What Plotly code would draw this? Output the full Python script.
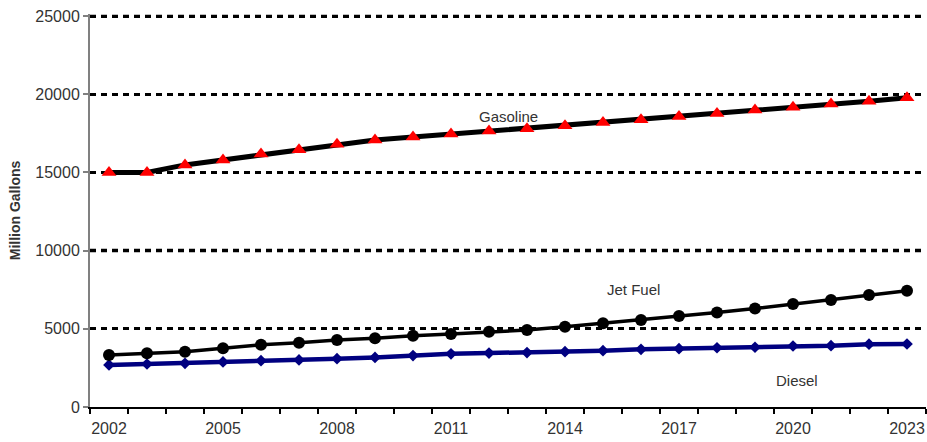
import plotly.graph_objects as go

# Annual fuel consumption projections, million gallons
years = list(range(2002, 2024))
gasoline = [15000, 15000, 15480, 15800, 16180, 16450, 16800, 17070, 17260, 17450,
            17650, 17800, 17990, 18200, 18370, 18580, 18770, 18990, 19160, 19370,
            19550, 19780]
jet_fuel = [3320, 3430, 3540, 3750, 3980, 4110, 4280, 4390, 4560, 4670,
            4810, 4920, 5130, 5350, 5560, 5820, 6050, 6300, 6580, 6840,
            7160, 7440]
diesel = [2690, 2750, 2790, 2880, 2960, 3010, 3090, 3170, 3290, 3400,
          3450, 3480, 3540, 3600, 3690, 3730, 3790, 3820, 3900, 3920,
          4020, 4030]

year_labels = [2002, 2005, 2008, 2011, 2014, 2017, 2020, 2023]
y_ticks = [0, 5000, 10000, 15000, 20000, 25000]

FONT = "Liberation Sans, Arial, sans-serif"
TXT = "#333333"
DASH = "6px,5px"

fig = go.Figure()

fig.add_trace(go.Scatter(
    x=years, y=diesel, mode="lines+markers", name="Diesel",
    line=dict(color="#000080", width=4.5),
    marker=dict(symbol="diamond", size=9, color="#000080"),
))
fig.add_trace(go.Scatter(
    x=years, y=jet_fuel, mode="lines+markers", name="Jet Fuel",
    line=dict(color="black", width=3.5),
    marker=dict(symbol="circle", size=12, color="black"),
))
fig.add_trace(go.Scatter(
    x=years, y=gasoline, mode="lines+markers", name="Gasoline",
    line=dict(color="black", width=5),
    marker=dict(symbol="triangle-up", size=13, color="#ff0000"),
))

# heavier dashed rule at 10000 and the top rule at 25000
fig.add_shape(type="line", xref="paper", x0=0, x1=1, yref="y", y0=10000, y1=10000,
              line=dict(color="black", width=3.5, dash=DASH), layer="below")
fig.add_shape(type="line", xref="paper", x0=0, x1=1, yref="y", y0=25000, y1=25000,
              line=dict(color="black", width=2.5, dash=DASH), layer="below")

for text, xv, yv in [("Gasoline", 2012.5, 18600), ("Jet Fuel", 2015.8, 7500),
                     ("Diesel", 2020.1, 1700)]:
    fig.add_annotation(x=xv, y=yv, text=text, showarrow=False,
                       font=dict(family=FONT, size=15, color=TXT))

fig.update_layout(
    width=927, height=442,
    margin=dict(l=90, r=1, t=14, b=35),
    paper_bgcolor="white", plot_bgcolor="white",
    showlegend=False,
    font=dict(family=FONT, size=16, color=TXT),
    xaxis=dict(
        range=[2001.5, 2023.5],
        tickvals=year_labels, ticktext=[str(v) for v in year_labels],
        ticks="", showgrid=False, zeroline=False,
        showline=True, linecolor="black", linewidth=1.5,
        ticklabelstandoff=6,
        tickfont=dict(family=FONT, size=16, color=TXT),
        minor=dict(tickvals=[y - 0.5 for y in years] + [2023.5],
                   ticks="outside", ticklen=5, tickcolor="black", tickwidth=1.5,
                   showgrid=False),
    ),
    yaxis=dict(
        range=[0, 25130], tickvals=y_ticks, ticktext=[str(v) for v in y_ticks],
        ticks="outside", ticklen=5, tickcolor="#808080", tickwidth=1.5,
        showline=True, linecolor="#808080", linewidth=2,
        showgrid=True, gridcolor="black", gridwidth=2.5, griddash=DASH,
        zeroline=False,
        tickfont=dict(family=FONT, size=16, color=TXT),
        title=dict(text="<b>Million Gallons</b>", standoff=11,
                   font=dict(family=FONT, size=14, color=TXT)),
    ),
)

fig.write_html("out.html")
